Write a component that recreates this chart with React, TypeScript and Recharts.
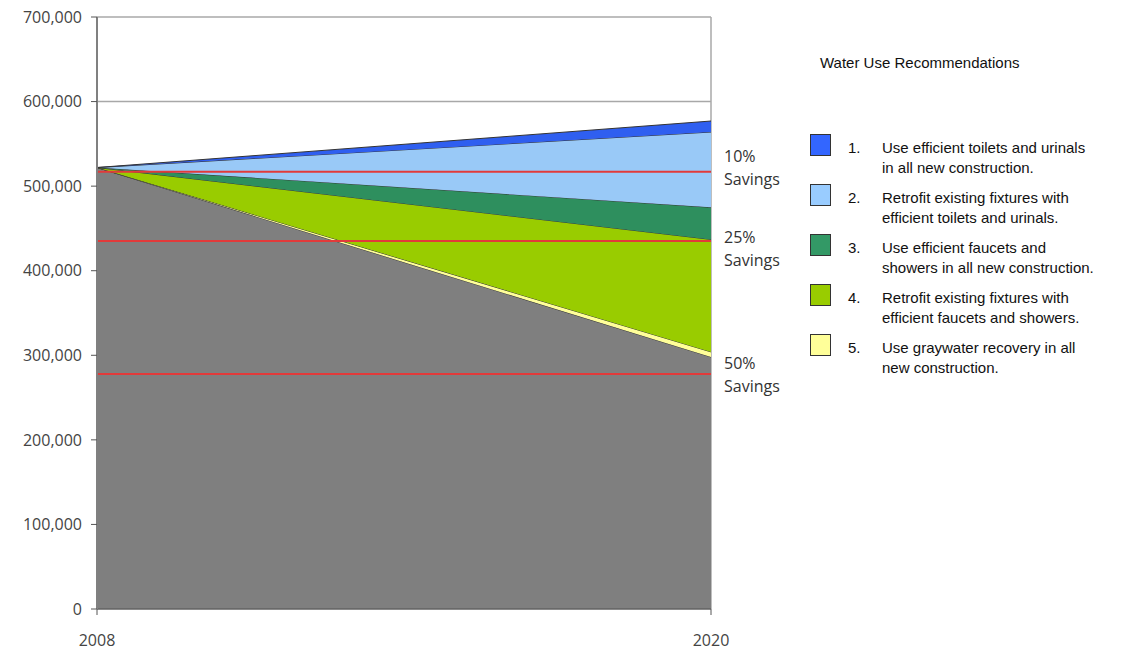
import { AreaChart, Area, XAxis, YAxis, CartesianGrid, ReferenceLine } from 'recharts';

// Data
const years = [2008, 2020];
const baseline = [522000, 298000];
const graywater = [0, 6000];
const retrofitFaucets = [0, 133000];
const newFaucets = [0, 38000];
const retrofitToilets = [0, 89000];
const newToilets = [0, 13000];

const yTicks = [0, 100000, 200000, 300000, 400000, 500000, 600000, 700000];
const savingsValues = [517000, 435000, 278000];
const savingsLabels = ['10%', '25%', '50%'];

const legendTitle = 'Water Use Recommendations';
const legendItems = [
  ['Use efficient toilets and urinals', 'in all new construction.'],
  ['Retrofit existing fixtures with', 'efficient toilets and urinals.'],
  ['Use efficient faucets and', 'showers in all new construction.'],
  ['Retrofit existing fixtures with', 'efficient faucets and showers.'],
  ['Use graywater recovery in all', 'new construction.'],
];

// series in stacking order (bottom first)
const series = [
  { key: 'base', values: baseline, color: '#7f7f7f' },
  { key: 's5', values: graywater, color: '#ffff99' },
  { key: 's4', values: retrofitFaucets, color: '#99cc00' },
  { key: 's3', values: newFaucets, color: '#2e8f5e' },
  { key: 's2', values: retrofitToilets, color: '#99c9f7' },
  { key: 's1', values: newToilets, color: '#2f5ff0' },
];
const legendColors = ['#3366ff', '#99ccff', '#339966', '#99cc00', '#ffff99'];
const labelShifts = [-15, -4, -10];

const data = years.map((year, i) => {
  const row: Record<string, number> = { year };
  series.forEach((s) => (row[s.key] = s.values[i]));
  return row;
});

const tickFont = { fontFamily: 'Open Sans', fontSize: 16, fill: '#444' };
const legendFont = {
  fontFamily: 'Liberation Sans, Arial, sans-serif',
  fontSize: 15,
  lineHeight: '20px',
  color: '#111',
  whiteSpace: 'nowrap' as const,
};

const SavingsLabel = ({ viewBox, text, shift }: any) => {
  const x = viewBox.x + viewBox.width + 13;
  const y = viewBox.y + shift + 5.5;
  return (
    <text x={x} y={y} fontFamily="Open Sans" fontSize={16} fill="#333">
      <tspan x={x}>{text}</tspan>
      <tspan x={x} dy={23}>Savings</tspan>
    </text>
  );
};

export default function App() {
  return (
    <div style={{ position: 'relative', width: 1133, height: 652 }}>
      <style>{'body{margin:0;overflow:hidden}'}</style>
      <AreaChart
        width={1133}
        height={652}
        data={data}
        margin={{ top: 17, right: 422, left: 0, bottom: 0 }}
      >
        <CartesianGrid stroke="#a8a8a8" strokeWidth={1.5} />
        <XAxis
          dataKey="year"
          type="number"
          domain={[2008, 2020]}
          ticks={years}
          height={43}
          tick={tickFont}
          tickSize={6}
          tickMargin={20}
          axisLine={{ stroke: '#555' }}
          tickLine={{ stroke: '#555' }}
        />
        <YAxis
          domain={[0, 700000]}
          ticks={yTicks}
          width={97}
          tick={tickFont}
          tickSize={6}
          tickMargin={9}
          tickFormatter={(v: number) => v.toLocaleString('en-US')}
          axisLine={{ stroke: '#808080', strokeWidth: 2 }}
          tickLine={{ stroke: '#555' }}
        />
        {series.map((s) => (
          <Area
            key={s.key}
            dataKey={s.key}
            stackId="1"
            type="linear"
            fill={s.color}
            fillOpacity={1}
            stroke="#333"
            strokeWidth={1}
            isAnimationActive={false}
          />
        ))}
        {savingsValues.map((v, i) => (
          <ReferenceLine
            key={v}
            y={v}
            stroke="#e23a3a"
            strokeWidth={2}
            label={<SavingsLabel text={savingsLabels[i]} shift={labelShifts[i]} />}
          />
        ))}
      </AreaChart>
      <div style={{ ...legendFont, position: 'absolute', left: 820, top: 53 }}>{legendTitle}</div>
      {legendItems.map((lines, i) => (
        <div key={i}>
          <div
            style={{
              position: 'absolute',
              left: 810,
              top: 134 + i * 50,
              width: 19,
              height: 20,
              background: legendColors[i],
              border: '1px solid #333',
            }}
          />
          <div style={{ ...legendFont, position: 'absolute', left: 848, top: 138 + i * 50 }}>
            {i + 1}.
          </div>
          <div style={{ ...legendFont, position: 'absolute', left: 882, top: 138 + i * 50 }}>
            {lines[0]}
            <br />
            {lines[1]}
          </div>
        </div>
      ))}
    </div>
  );
}
